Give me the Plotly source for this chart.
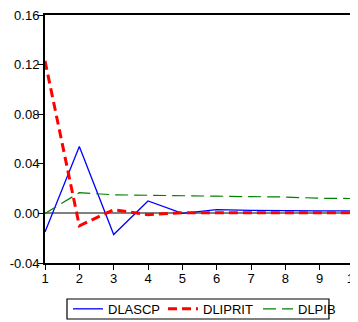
import plotly.graph_objects as go

periods = [1, 2, 3, 4, 5, 6, 7, 8, 9, 10]
dlascp = [-0.015, 0.054, -0.017, 0.010, 0.000, 0.003, 0.0025, 0.002, 0.002, 0.002]
dliprit = [0.123, -0.010, 0.003, -0.001, 0.0005, 0.0005, 0.0005, 0.0005, 0.0005, 0.0005]
dlpib = [0.000, 0.0167, 0.015, 0.0148, 0.0142, 0.0139, 0.0135, 0.0132, 0.0122, 0.012]
ytick_vals = [-0.04, 0.00, 0.04, 0.08, 0.12, 0.16]
ytick_text = ["-0.04", "0.00", "0.04", "0.08", "0.12", "0.16"]

fig = go.Figure()
fig.add_trace(go.Scatter(x=periods, y=dlascp, mode="lines", name="DLASCP",
                         line=dict(color="#0000ff", width=1.3)))
fig.add_trace(go.Scatter(x=periods, y=dliprit, mode="lines", name="DLIPRIT",
                         line=dict(color="#ff0000", width=3, dash="9px,5px")))
fig.add_trace(go.Scatter(x=periods, y=dlpib, mode="lines", name="DLPIB",
                         line=dict(color="#008000", width=1.2, dash="13px,6px")))

# legend frame (decoration)
fig.add_shape(type="rect", xref="paper", yref="paper",
              x0=0.0712, x1=0.919, y0=-0.2258, y1=-0.1452,
              line=dict(color="black", width=1.2), fillcolor="rgba(0,0,0,0)")

# page body has an 8px default margin, so the figure is sized/offset to compensate
fig.update_layout(
    width=350, height=314,
    margin=dict(l=37, r=4, t=7, b=59, autoexpand=False),
    paper_bgcolor="white", plot_bgcolor="white",
    font=dict(family="Liberation Sans, Arial, sans-serif", size=13, color="black"),
    showlegend=True,
    legend=dict(orientation="h", x=0.0744, xanchor="left", y=-0.185, yanchor="middle",
                borderwidth=0, bgcolor="rgba(0,0,0,0)",
                font=dict(size=13), itemwidth=30, tracegroupgap=0,
                entrywidth=50, entrywidthmode="pixels"),
    xaxis=dict(range=[1, 10], tickvals=periods, ticktext=[str(p) for p in periods],
               showline=True, linecolor="black", linewidth=2, mirror=True,
               ticks="outside", ticklen=5, tickcolor="black", showgrid=False,
               zeroline=False, ticklabeloverflow="allow", ticklabelstandoff=-3),
    yaxis=dict(range=[-0.04, 0.16], tickvals=ytick_vals, ticktext=ytick_text,
               showline=True, linecolor="black", linewidth=2, mirror=True,
               ticks="outside", ticklen=5, tickcolor="black", showgrid=False,
               zeroline=True, zerolinecolor="#808080", zerolinewidth=2,
               ticklabelstandoff=-4, ticklabeloverflow="allow"),
)

fig.write_html("out.html")
